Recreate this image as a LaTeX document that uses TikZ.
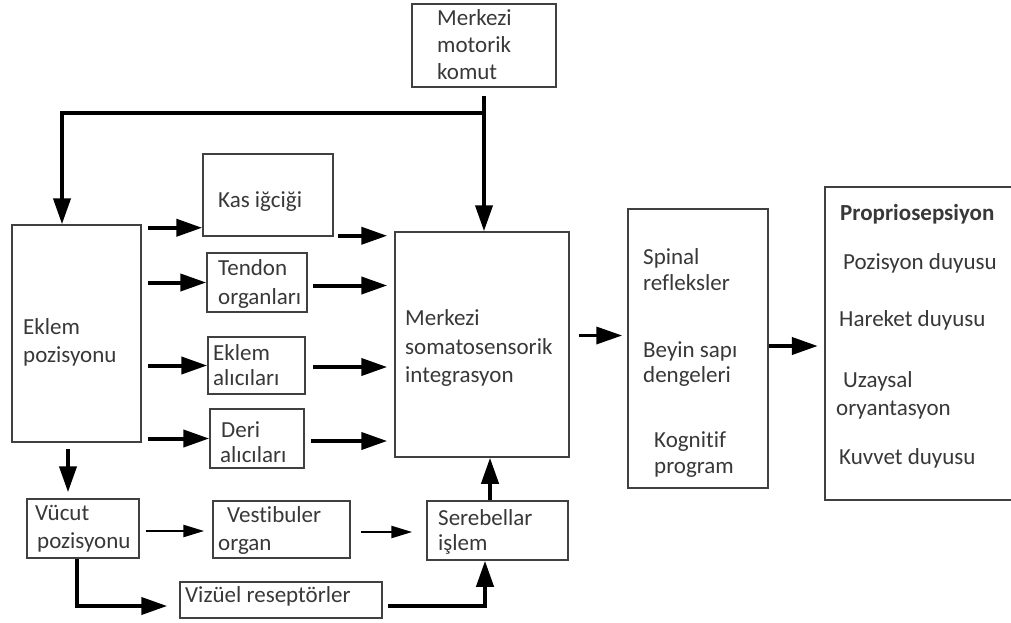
\documentclass[tikz,border=0pt]{standalone}
\usepackage{fontspec}
\setmainfont{Carlito}[Ligatures={NoCommon,NoContextual}]
\usetikzlibrary{arrows.meta}
\definecolor{txt}{HTML}{383838}
\definecolor{edge}{HTML}{404040}
\tikzset{
  box/.style={draw=edge, line width=1.5pt, inner sep=0pt, rectangle},
  openbox/.style={inner sep=0pt, rectangle},
  boxline/.style={draw=edge, line width=1.5pt},
  lbl/.style={anchor=base west, inner sep=0pt, text=txt, font=\fontsize{23}{27}\selectfont},
  arr/.style={draw=black, line width=4pt, -{Triangle[length=26pt,width=17pt]}},
  thinarr/.style={draw=black, line width=2.5pt, -{Triangle[length=21pt,width=12pt]}},
}
\begin{document}
\begin{tikzpicture}[x=1pt,y=-1pt]
\useasboundingbox (0,0) rectangle (1011,622);
\fill[white] (0,0) rectangle (1011,622);
% boxes
\node[box, minimum width=144pt, minimum height=83pt] (motor) at (484,45.5) {};
\node[box, minimum width=130pt, minimum height=82pt] (kas) at (268,195) {};
\node[box, minimum width=129pt, minimum height=217pt] (eklem) at (76.5,333.5) {};
\node[box, minimum width=100pt, minimum height=59pt] (tendon) at (257,282.5) {};
\node[box, minimum width=97pt, minimum height=57pt] (ealici) at (256.5,365.5) {};
\node[box, minimum width=94pt, minimum height=59pt] (deri) at (257,438.5) {};
\node[box, minimum width=174pt, minimum height=225pt] (central) at (482,344.5) {};
\node[box, minimum width=140pt, minimum height=279pt] (spinal) at (698,348.5) {};
\node[openbox, minimum width=186pt, minimum height=313pt] (prop) at (918,343.5) {};
\draw[boxline] (prop.north east) -- (prop.north west) -- (prop.south west) -- (prop.south east);
\node[box, minimum width=112pt, minimum height=59pt] (vucut) at (83,528.5) {};
\node[box, minimum width=137pt, minimum height=57pt] (vest) at (281.5,529.5) {};
\node[box, minimum width=141pt, minimum height=59pt] (sereb) at (497.5,530.5) {};
\node[box, minimum width=202pt, minimum height=36pt] (vizuel) at (281,600) {};
% texts
\node[lbl] (tm1) at (437,25) {Merkezi};
\node[lbl] (tm2) at (437,52) {motorik};
\node[lbl] (tm3) at (437,79) {komut};
\node[lbl] (tk1) at (218,207) {Kas iğciği};
\node[lbl] (te1) at (23,334) {Eklem};
\node[lbl] (te2) at (23,362) {pozisyonu};
\node[lbl] (tt1) at (218,275) {Tendon};
\node[lbl] (tt2) at (218,304) {organları};
\node[lbl] (ta1) at (213,360) {Eklem};
\node[lbl] (ta2) at (213,385) {alıcıları};
\node[lbl] (td1) at (221,437) {Deri};
\node[lbl] (td2) at (220,462) {alıcıları};
\node[lbl] (tc1) at (405,325) {Merkezi};
\node[lbl] (tc2) at (405,354) {somatosensorik};
\node[lbl] (tc3) at (405,382) {integrasyon};
\node[lbl] (ts1) at (643,264) {Spinal};
\node[lbl] (ts2) at (643,290) {refleksler};
\node[lbl] (ts3) at (643,357) {Beyin sapı};
\node[lbl] (ts4) at (643,382) {dengeleri};
\node[lbl] (ts5) at (654,447) {Kognitif};
\node[lbl] (ts6) at (654,473) {program};
\node[lbl, font=\fontsize{23}{27}\selectfont\bfseries] (tp1) at (840,220) {Propriosepsiyon};
\node[lbl] (tp2) at (843,269) {Pozisyon duyusu};
\node[lbl] (tp3) at (839,326) {Hareket duyusu};
\node[lbl] (tp4) at (843,387) {Uzaysal};
\node[lbl] (tp5) at (836,415) {oryantasyon};
\node[lbl] (tp6) at (839,464) {Kuvvet duyusu};
\node[lbl] (tv1) at (35,520) {Vücut};
\node[lbl] (tv2) at (37,548) {pozisyonu};
\node[lbl] (tb1) at (227,522) {Vestibuler};
\node[lbl] (tb2) at (218,550) {organ};
\node[lbl] (tr1) at (438,525) {Serebellar};
\node[lbl] (tr2) at (438,550) {işlem};
\node[lbl] (tz1) at (185,602) {Vizüel reseptörler};
% connectors
\draw[arr, shorten <=8pt] (motor.south) -- (motor.south |- central.north);
\coordinate (br) at ([yshift=-25pt]motor.south);
\coordinate (el) at ([xshift=-14.5pt]eklem.north);
\draw[arr] (br) -| (el);
\coordinate (k0) at ([yshift=9pt]kas.south west);
\draw[arr, shorten <=6pt] (k0 -| eklem.east) -- (k0);
\draw[arr, shorten <=6pt] (eklem.east |- tendon.west) -- (tendon.west);
\draw[arr, shorten <=6pt] (eklem.east |- ealici.west) -- (ealici.west);
\draw[arr, shorten <=6pt] (eklem.east |- deri.west) -- (deri.west);
\coordinate (k2) at ([yshift=1pt]kas.south east);
\draw[arr, shorten <=4pt, shorten >=7pt] (k2) -- (k2 -| central.west);
\coordinate (t2) at ([yshift=-3pt]tendon.east);
\draw[arr, shorten <=5pt, shorten >=7pt] (t2) -- (t2 -| central.west);
\coordinate (a2) at ([yshift=-1.5pt]ealici.east);
\draw[arr, shorten <=7pt, shorten >=7pt] (a2) -- (a2 -| central.west);
\coordinate (d2) at ([yshift=-2.5pt]deri.east);
\draw[arr, shorten <=6pt, shorten >=7pt] (d2) -- (d2 -| central.west);
\coordinate (c1) at ([yshift=9pt]central.east);
\draw[arr, line width=3.5pt, shorten <=9pt, shorten >=5pt] (c1) -- (c1 -| spinal.west);
\coordinate (p1) at ([yshift=2.5pt]spinal.east);
\draw[arr, shorten >=7pt] (p1) -- (p1 -| prop.west);
\coordinate (e2) at ([xshift=-8.5pt]eklem.south);
\draw[arr, shorten <=6pt, shorten >=6pt] (e2) -- (e2 |- vucut.north);
\coordinate (u1) at ([yshift=-2.5pt]vucut.east);
\draw[thinarr, shorten <=6pt, shorten >=8pt] (u1) -- (u1 -| vest.west);
\coordinate (b1) at ([yshift=-2.5pt]vest.east);
\draw[thinarr, shorten <=10pt, shorten >=14pt] (b1) -- (b1 -| sereb.west);
\coordinate (v1) at ([xshift=-6pt]vucut.south);
\coordinate (v2) at ([yshift=-6pt]vizuel.west);
\draw[arr, shorten >=12pt] (v1) |- (v2);
\coordinate (v3) at ([yshift=-6pt]vizuel.east);
\coordinate (s1) at ([xshift=-12.5pt]sereb.south);
\draw[arr, shorten <=5pt] (v3) -| (s1);
\coordinate (s2) at ([xshift=-7.5pt]sereb.north);
\draw[arr] (s2) -- (s2 |- central.south);
\end{tikzpicture}
\end{document}
